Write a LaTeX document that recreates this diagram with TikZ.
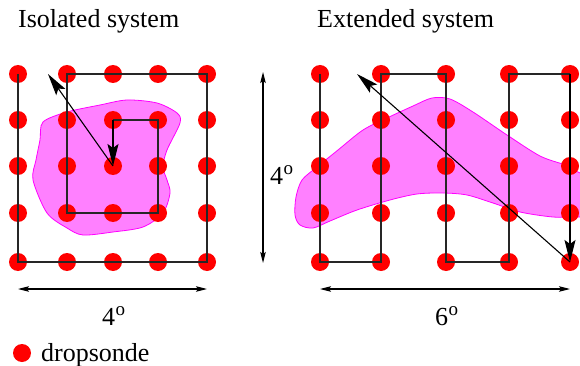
\documentclass[tikz,border=0pt]{standalone}
\usepackage{fontspec}
\setmainfont{Liberation Serif}
\usetikzlibrary{arrows.meta}
\definecolor{blobfill}{RGB}{255,128,255}
\definecolor{blobedge}{RGB}{255,0,255}
\newcommand{\mysupo}{\kern0.5pt\raisebox{10pt}{\fontsize{19}{20}\selectfont o}}
\begin{document}
\begin{tikzpicture}[x=1pt,y=-1pt,
  dot/.style={circle,fill=red,minimum size=18pt,inner sep=0},
  route/.style={line width=1.5pt,draw=black!85},
  bigarrow/.style={line width=1.1pt,-{Stealth[length=22pt,width=11pt,inset=4pt]}},
  dimarrow/.style={line width=1.1pt,{Stealth[length=11pt,width=5.5pt,inset=2pt]}-{Stealth[length=11pt,width=5.5pt,inset=2pt]}},
  blob/.style={fill=blobfill,draw=blobedge,line width=0.8pt},
  lbl/.style={font=\fontsize{26}{30}\selectfont,inner sep=0,anchor=base west}]
\useasboundingbox (0,0) rectangle (580,366);
% titles
\node[lbl] (t1) at (18,28) {Isolated system};
\node[lbl] (t2) at (317,28) {Extended system};
% blobs
\draw[blob] plot[smooth cycle] coordinates {(43,122) (67,112) (100,105) (127,100) (157,103) (177,113) (180,123) (167,150) (163,167) (167,180) (170,193) (163,213) (143,227) (113,232) (83,235) (67,228) (47,213) (33,180) (36,160) (40,140)};
\begin{scope}
\clip (0,0) rectangle (580,366);
\draw[blob] plot[smooth] coordinates {(600,180) (580,173) (565,165) (540,156) (507,135) (473,112) (450,99) (432,98) (413,106) (387,118) (363,130) (338,150) (317,167) (302,180) (296,197) (295,215) (300,225) (313,228) (330,221) (357,210) (390,200) (417,194) (443,193) (467,195) (493,203) (520,212) (553,217) (580,217) (600,217)} -- cycle;
\end{scope}
% dots
\foreach \x [count=\i] in {18,67,113,158,207}
  \foreach \y [count=\j] in {74,120,166,213,262}
    \node[dot] (L-\i-\j) at (\x,\y) {};
\foreach \x [count=\i] in {320,381,446,509,570}
  \foreach \y [count=\j] in {74,120,166,213,262}
    \node[dot] (R-\i-\j) at (\x,\y) {};
% left route
\draw[route] (L-1-1.center) -- (L-1-5.center) -- (L-5-5.center) -- (L-5-1.center) -- (L-2-1.center) -- (L-2-4.center) -- (L-4-4.center) -- (L-4-2.center) -- (L-3-2.center);
\draw[bigarrow] (L-3-2.center) -- (L-3-3.center);
\coordinate (lend) at (48,74);
\draw[bigarrow] (L-3-3.center) -- (lend);
% right route
\draw[route] (R-1-1.center) -- (R-1-5.center) -- (R-2-5.center) -- (R-2-1.center) -- (R-3-1.center) -- (R-3-5.center) -- (R-4-5.center) -- (R-4-1.center) -- (R-5-1.center);
\draw[bigarrow] (R-5-1.center) -- (R-5-5.center);
\coordinate (rend) at (357,74);
\draw[bigarrow] (R-5-5.center) -- (rend);
% dimensions
\coordinate (va) at (263,72);
\coordinate (vb) at (263,263);
\draw[dimarrow] (va) -- (vb);
\coordinate (ha) at (18,289);
\coordinate (hb) at (207,289);
\draw[dimarrow] (ha) -- (hb);
\coordinate (hc) at (320,289);
\coordinate (hd) at (570,289);
\draw[dimarrow] (hc) -- (hd);
\node[lbl] (d1) at (270,184) {4\mysupo};
\node[lbl] (d2) at (102,325) {4\mysupo};
\node[lbl] (d3) at (435,325) {6\mysupo};
% legend
\node[dot] (legdot) at (22,353) {};
\node[lbl] (legtext) at (41,361) {dropsonde};
\end{tikzpicture}
\end{document}
